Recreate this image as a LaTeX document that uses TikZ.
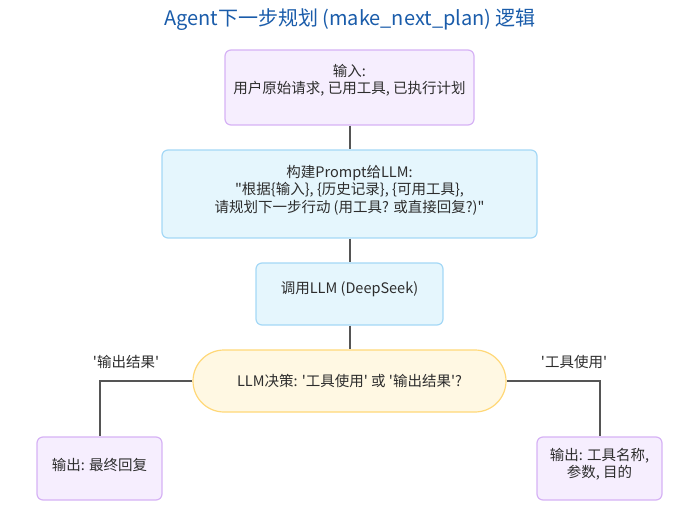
\documentclass[tikz,border=0pt]{standalone}
\usepackage{fontspec}
\setmainfont{Noto Sans CJK SC}
\usetikzlibrary{shapes.misc}
\definecolor{titleblue}{RGB}{26,92,170}
\definecolor{purfill}{RGB}{246,238,254}
\definecolor{purline}{RGB}{214,178,245}
\definecolor{bluefill}{RGB}{229,246,253}
\definecolor{blueline}{RGB}{164,216,246}
\definecolor{yelfill}{RGB}{255,248,227}
\definecolor{yelline}{RGB}{255,216,120}
\definecolor{txt}{RGB}{45,45,45}
\definecolor{conn}{RGB}{85,85,85}
\newcommand{\sq}{\textquotesingle}
\newcommand{\dq}{\textquotedbl}
\begin{document}
\begin{tikzpicture}[x=1pt,y=1pt,
  box/.style={draw, line width=1.2pt, rounded corners=6pt, inner sep=0pt},
  purbox/.style={box, fill=purfill, draw=purline},
  bluebox/.style={box, fill=bluefill, draw=blueline},
  decbox/.style={draw=yelline, fill=yelfill, line width=1.2pt, rounded rectangle, inner sep=0pt},
  btxt/.style={align=center, text=txt, font=\fontsize{14.5}{17.5}\selectfont, inner sep=0pt},
  conn/.style={draw=conn, line width=2pt},
  lbl/.style={text=txt, font=\fontsize{14.5}{17}\selectfont, inner sep=0pt}]
\useasboundingbox (0,0) rectangle (685,-529);
\node[text=titleblue, font=\fontsize{20}{24}\selectfont, inner sep=0pt] (title) at (350,-20) {Agent下一步规划 (make\_next\_plan) 逻辑};
\node[purbox, minimum width=249pt, minimum height=75pt] (in) at (349.5,-87.5) {};
\node[btxt] (intxt) at (349.5,-80.5) {输入:\\用户原始请求, 已用工具, 已执行计划};
\node[bluebox, minimum width=375pt, minimum height=88pt] (prompt) at (349.5,-194) {};
\node[btxt] (prompttxt) at (349.5,-190) {构建Prompt给LLM:\\\dq 根据\{输入\}, \{历史记录\}, \{可用工具\},\\请规划下一步行动 (用工具? 或直接回复?)\dq};
\node[bluebox, minimum width=187pt, minimum height=62pt] (llm) at (349.5,-294) {};
\node[btxt] (llmtxt) at (349.5,-289.5) {调用LLM (DeepSeek)};
\node[decbox, minimum width=313pt, minimum height=62pt] (dec) at (349.5,-381) {};
\node[btxt] (dectxt) at (349.5,-381) {LLM决策: \sq 工具使用\sq{} 或 \sq 输出结果\sq?};
\node[purbox, minimum width=125pt, minimum height=63pt] (left) at (99.5,-468.5) {};
\node[btxt] (lefttxt) at (99.5,-465) {输出: 最终回复};
\node[purbox, minimum width=125pt, minimum height=63pt] (right) at (599.5,-468.5) {};
\node[btxt] (righttxt) at (599.5,-464.5) {输出: 工具名称,\\参数, 目的};
\coordinate (lc) at (left.north |- dec.west);
\coordinate (rc) at (right.north |- dec.east);
\draw[conn] (in.south) -- (prompt.north);
\draw[conn] (prompt.south) -- (llm.north);
\draw[conn] (llm.south) -- (dec.north);
\draw[conn] (dec.west) -- (lc) -- (left.north);
\draw[conn] (dec.east) -- (rc) -- (right.north);
\node[lbl] (l1) at (126,-362) {\sq 输出结果\sq};
\node[lbl] (l2) at (574,-362) {\sq 工具使用\sq};
\end{tikzpicture}
\end{document}
